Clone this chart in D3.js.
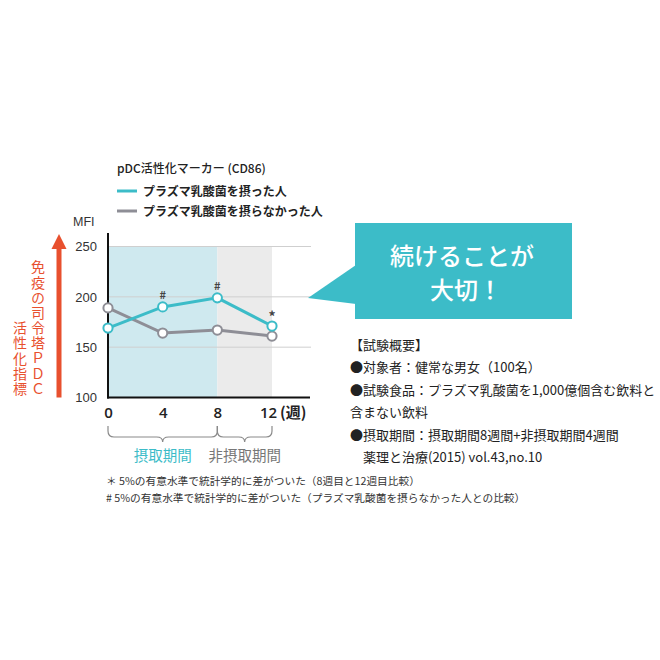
<!DOCTYPE html>
<html>
<head>
<meta charset="utf-8">
<script src="https://cdn.jsdelivr.net/npm/d3@7"></script>
<style>
  body { margin: 0; background: #fff; }
  svg { font-family: "Noto Sans CJK JP", "Noto Sans", sans-serif; }
</style>
</head>
<body>
<div id="chart"></div>
<script>
// ---- Data ----
const weeks = [0, 4, 8, 12];
const takenValues = [169, 190, 199, 171];      // プラズマ乳酸菌を摂った人
const notTakenValues = [189, 164, 167, 161];   // 摂らなかった人
const sigMarks = ["", "#", "#", "*"];
const yTicks = [100, 150, 200, 250];
const seriesNames = ["プラズマ乳酸菌を摂った人", "プラズマ乳酸菌を摂らなかった人"];
const periods = [
  { label: "摂取期間", from: 0, to: 8 },
  { label: "非摂取期間", from: 8, to: 12 }
];
const summaryLines = [
  "【試験概要】",
  "●対象者：健常な男女（100名）",
  "●試験食品：プラズマ乳酸菌を1,000億個含む飲料と",
  "含まない飲料",
  "●摂取期間：摂取期間8週間+非摂取期間4週間",
  "　薬理と治療(2015) vol.43,no.10"
];
const footnotes = [
  "＊ 5%の有意水準で統計学的に差がついた（8週目と12週目比較）",
  "# 5%の有意水準で統計学的に差がついた（プラズマ乳酸菌を摂らなかった人との比較）"
];
const sideLabel = ["免疫の司令塔ＰＤＣ", "活性化指標"];

const TEAL = "#3cbcc8";
const GREY = "#8e8e96";
const RED = "#e8502e";

const W = 660, H = 660;
const svg = d3.select("#chart").append("svg")
  .attr("width", W).attr("height", H);

// ---- Scales ----
const x = d3.scaleLinear().domain([0, 12]).range([108, 272]);
const y = d3.scaleLinear().domain([100, 250]).range([397.5, 246.5]);

// ---- Background bands ----
svg.append("rect")
  .attr("x", x(0)).attr("y", y(250))
  .attr("width", x(8) - x(0)).attr("height", y(100) - y(250))
  .attr("fill", "#cfe9ef");
svg.append("rect")
  .attr("x", x(8)).attr("y", y(250))
  .attr("width", x(12) - x(8)).attr("height", y(100) - y(250))
  .attr("fill", "#ebebeb");

// ---- Gridlines ----
svg.append("g")
  .selectAll("line")
  .data(yTicks.filter(d => d > 100))
  .join("line")
  .attr("x1", x(0)).attr("x2", 311)
  .attr("y1", d => y(d)).attr("y2", d => y(d))
  .attr("stroke", "#cfcfcf").attr("stroke-width", 1);

// ---- Axes ----
const yAxis = d3.axisLeft(y).tickValues(yTicks).tickSize(0).tickPadding(11);
svg.append("g")
  .attr("transform", `translate(${x(0)},0)`)
  .call(yAxis)
  .call(g => g.select(".domain").remove())
  .call(g => g.selectAll("text")
    .style("font-size", "13px").attr("fill", "#333")
    .style("font-family", "'Liberation Sans', Arial, sans-serif"));

svg.append("line")
  .attr("x1", x(0)).attr("x2", x(0))
  .attr("y1", 233).attr("y2", y(100) + 1)
  .attr("stroke", "#111").attr("stroke-width", 2);
svg.append("line")
  .attr("x1", x(0) - 1).attr("x2", 310)
  .attr("y1", y(100)).attr("y2", y(100))
  .attr("stroke", "#111").attr("stroke-width", 2);

const xAxis = d3.axisBottom(x).tickValues(weeks).tickSize(0).tickPadding(10)
  .tickFormat(d => d);
svg.append("g")
  .attr("transform", `translate(0,${y(100)})`)
  .call(xAxis)
  .call(g => g.select(".domain").remove())
  .call(g => g.selectAll("text")
    .style("font-size", "15px").style("font-weight", "600").attr("fill", "#222")
    .attr("dx", d => d === 12 ? -4 : 0)
    .style("font-family", "'Open Sans', sans-serif"));
svg.append("text")
  .attr("x", 280).attr("y", 418)
  .style("font-size", "15px").style("font-weight", "600").attr("fill", "#222")
  .text("(週)");

svg.append("text")
  .attr("x", 73).attr("y", 226)
  .style("font-size", "12.5px").attr("fill", "#333")
  .style("font-family", "'Liberation Sans', Arial, sans-serif")
  .text("MFI");

// ---- Lines ----
const line = d3.line().x(d => x(d[0])).y(d => y(d[1]));
const series = [
  { values: notTakenValues, color: GREY },
  { values: takenValues, color: TEAL }
];
series.forEach(s => {
  const pts = weeks.map((w, i) => [w, s.values[i]]);
  svg.append("path")
    .datum(pts)
    .attr("d", line)
    .attr("fill", "none")
    .attr("stroke", s.color)
    .attr("stroke-width", 3);
  svg.append("g")
    .selectAll("circle")
    .data(pts)
    .join("circle")
    .attr("cx", d => x(d[0])).attr("cy", d => y(d[1]))
    .attr("r", 4.6)
    .attr("fill", "#fff")
    .attr("stroke", s.color)
    .attr("stroke-width", 2);
});

// significance marks
svg.append("g")
  .selectAll("text")
  .data(weeks.map((w, i) => ({ w, v: takenValues[i], m: sigMarks[i] })).filter(d => d.m))
  .join("text")
  .attr("x", d => x(d.w)).attr("y", d => y(d.v) - (d.m === "*" ? 4 : 8))
  .attr("text-anchor", "middle")
  .style("font-size", d => d.m === "*" ? "14px" : "11px")
  .style("font-weight", "700").attr("fill", "#444")
  .text(d => d.m);

// ---- Legend ----
svg.append("text")
  .attr("x", 117).attr("y", 173)
  .style("font-size", "12px").style("font-weight", "500").attr("fill", "#222")
  .text("pDC活性化マーカー (CD86)");
[TEAL, GREY].forEach((c, i) => {
  const ly = 191 + i * 20;
  svg.append("line")
    .attr("x1", 117).attr("x2", 137).attr("y1", ly).attr("y2", ly)
    .attr("stroke", c).attr("stroke-width", 3);
  svg.append("text")
    .attr("x", 143).attr("y", ly + 5)
    .style("font-size", "12px").style("font-weight", "700").attr("fill", "#222")
    .text(seriesNames[i]);
});

// ---- Red arrow + vertical label ----
svg.append("rect")
  .attr("x", 56.5).attr("y", 246).attr("width", 5).attr("height", y(100) - 246)
  .attr("fill", RED);
svg.append("path")
  .attr("d", "M59,234 L66.5,249 L51.5,249 Z")
  .attr("fill", RED);

// vertical columns, bottom-aligned to the x axis
svg.append("g").selectAll("text").data(sideLabel).join("text")
  .attr("x", (d, i) => i === 0 ? 38 : 20)
  .attr("y", (d, i) => i === 0 ? 260 : 260 + 4 * 15.2)
  .style("writing-mode", "vertical-rl")
  .style("text-orientation", "upright")
  .style("letter-spacing", "1.2px")
  .style("font-size", "14px").attr("fill", RED)
  .text(d => d);

// ---- Callout ----
svg.append("path")
  .attr("d", "M356,265 L308,298 L356,304 Z")
  .attr("fill", TEAL);
svg.append("rect")
  .attr("x", 355).attr("y", 223).attr("width", 217).attr("height", 96)
  .attr("fill", TEAL);
svg.append("text")
  .attr("x", 462).attr("y", 265).attr("text-anchor", "middle")
  .style("font-size", "24px").style("font-weight", "500").attr("fill", "#fff")
  .text("続けることが");
svg.append("text")
  .attr("x", 466).attr("y", 299).attr("text-anchor", "middle")
  .style("font-size", "24px").style("font-weight", "500").attr("fill", "#fff")
  .text("大切！");

// ---- Summary ----
svg.append("g").selectAll("text").data(summaryLines).join("text")
  .attr("x", 350).attr("y", (d, i) => 350 + i * 22.4)
  .style("font-size", "13px").attr("fill", "#222")
  .text(d => d);

// ---- Period braces ----
const brace = (x0, x1, top, bot) => {
  const mid = (x0 + x1) / 2;
  const r = 6;
  return `M${x0},${top} L${x0},${bot - r} Q${x0},${bot} ${x0 + r},${bot}` +
    ` L${mid - r},${bot} Q${mid},${bot} ${mid},${bot + 5}` +
    ` Q${mid},${bot} ${mid + r},${bot}` +
    ` L${x1 - r},${bot} Q${x1},${bot} ${x1},${bot - r} L${x1},${top}`;
};
svg.append("g").selectAll("path").data(periods).join("path")
  .attr("d", d => brace(x(d.from), x(d.to), 426, 437))
  .attr("fill", "none").attr("stroke", "#8a8a8a").attr("stroke-width", 1.2);
svg.append("g").selectAll("text").data(periods).join("text")
  .attr("x", d => (x(d.from) + x(d.to)) / 2)
  .attr("y", 461)
  .attr("text-anchor", "middle")
  .style("font-size", "14.5px")
  .attr("fill", (d, i) => i === 0 ? TEAL : "#777")
  .text(d => d.label);

// ---- Footnotes ----
svg.append("g").selectAll("text").data(footnotes).join("text")
  .attr("x", 106).attr("y", (d, i) => 485 + i * 17)
  .style("font-size", "10.7px").attr("fill", "#333")
  .text(d => d);
</script>
</body>
</html>
